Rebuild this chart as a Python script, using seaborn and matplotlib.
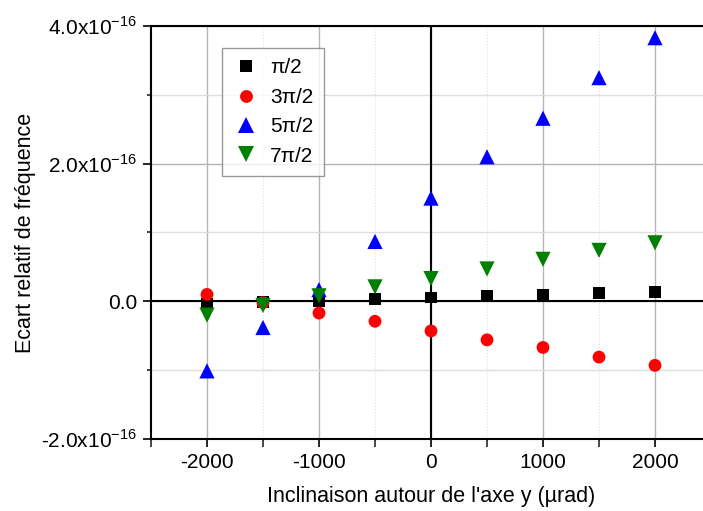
import numpy as np
import pandas as pd
import matplotlib
matplotlib.use("Agg")
import matplotlib.pyplot as plt
import matplotlib.ticker as mticker
import seaborn as sns

# inclinaison (µrad)
inclinaison = [-2000, -1500, -1000, -500, 0, 500, 1000, 1500, 2000]

# écart relatif de fréquence, en unités de 1e-16
pi_2 = [-0.03, -0.01, 0.005, 0.03, 0.055, 0.075, 0.095, 0.12, 0.14]
pi3_2 = [0.10, -0.02, -0.17, -0.29, -0.43, -0.56, -0.67, -0.81, -0.93]
pi5_2 = [-1.01, -0.38, 0.17, 0.87, 1.50, 2.10, 2.66, 3.25, 3.83]
pi7_2 = [-0.20, -0.06, 0.08, 0.21, 0.33, 0.47, 0.61, 0.74, 0.85]

series = ["π/2", "3π/2", "5π/2", "7π/2"]
couleurs = ["black", "red", "blue", "green"]
marqueurs = ["s", "o", "^", "v"]
tailles = [70, 85, 120, 120]

frames = []
for nom, vals in zip(series, [pi_2, pi3_2, pi5_2, pi7_2]):
    frames.append(pd.DataFrame({"x": inclinaison,
                                "y": np.array(vals) * 1e-16,
                                "serie": nom}))
df = pd.concat(frames, ignore_index=True)

sns.set_style("ticks")
plt.rcParams["font.family"] = ["Liberation Sans", "DejaVu Sans"]
plt.rcParams["mathtext.fontset"] = "custom"
plt.rcParams["mathtext.rm"] = "Liberation Sans"
plt.rcParams["axes.unicode_minus"] = False
plt.rcParams["text.color"] = "black"
plt.rcParams["axes.labelcolor"] = "black"

fig = plt.figure(figsize=(7.03, 5.11), dpi=100)
ax = fig.add_axes([151 / 703, 72 / 511, 560 / 703, 413 / 511])

ax.set_xlim(-2500, 2500)
ax.set_ylim(-2e-16, 4e-16)

# grilles
ax.xaxis.set_major_locator(mticker.MultipleLocator(1000))
ax.xaxis.set_minor_locator(mticker.MultipleLocator(500))
ax.yaxis.set_major_locator(mticker.MultipleLocator(2e-16))
ax.yaxis.set_minor_locator(mticker.MultipleLocator(1e-16))
ax.grid(which="major", axis="x", color="#b4b4b4", lw=1, ls="-")
ax.grid(which="minor", axis="x", color="#e0e0e0", lw=0.8, ls=":")
ax.grid(which="major", axis="y", color="#b4b4b4", lw=1, ls="-")
ax.grid(which="minor", axis="y", color="#dedede", lw=1, ls="-")
ax.set_axisbelow(True)

ax.axhline(0, color="black", lw=1.5, zorder=1.5)
ax.axvline(0, color="black", lw=1.5, zorder=1.5)

sns.scatterplot(data=df, x="x", y="y", hue="serie", style="serie",
                size="serie", sizes=dict(zip(series, tailles)),
                palette=dict(zip(series, couleurs)),
                markers=dict(zip(series, marqueurs)),
                linewidth=0, ax=ax, zorder=3)


def fmt(v, pos):
    if abs(v) < 1e-20:
        return "0.0"
    return r"%.1fx10$^{\mathregular{-16}}$" % (v / 1e-16)


ax.yaxis.set_major_formatter(mticker.FuncFormatter(fmt))
ax.tick_params(which="major", direction="out", length=6, width=1.2,
               labelsize=15, colors="black", pad=4)
ax.tick_params(which="minor", axis="y", direction="out", length=3, width=1.2)
ax.tick_params(which="minor", axis="x", direction="out", length=6, width=1.2)

for s in ["left", "bottom", "top"]:
    ax.spines[s].set_linewidth(1.5)
    ax.spines[s].set_color("black")
ax.spines["right"].set_visible(False)

ax.set_xlabel("Inclinaison autour de l'axe y (µrad)", fontsize=15.5, labelpad=10)
ax.set_ylabel("Ecart relatif de fréquence", fontsize=15.5, labelpad=4)

leg = ax.legend(loc="upper left", bbox_to_anchor=(71 / 560, 391 / 413),
                borderaxespad=0, fontsize=15, frameon=True, fancybox=False,
                labelspacing=0.5, handletextpad=0.5, borderpad=0.5,
                handlelength=1.3)
leg.get_frame().set_edgecolor("#808080")
leg.get_frame().set_linewidth(1)

fig.savefig("out.png", dpi=100)
